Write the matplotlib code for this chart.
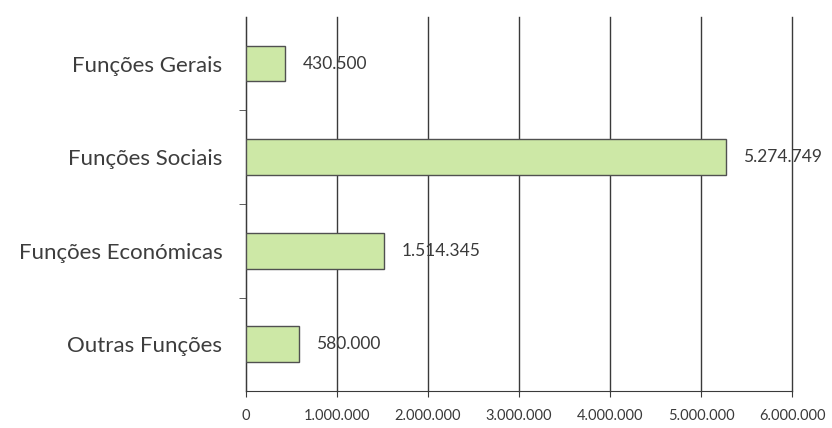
import matplotlib
matplotlib.use("Agg")
import matplotlib.pyplot as plt
from matplotlib.ticker import FuncFormatter

categories = ["Funções Gerais", "Funções Sociais", "Funções Económicas", "Outras Funções"]
values = [430500, 5274749, 1514345, 580000]
xticks = [0, 1000000, 2000000, 3000000, 4000000, 5000000, 6000000]

def fmt(v):
    return f"{int(v):,}".replace(",", ".")

plt.rcParams['font.family'] = ['Lato', 'DejaVu Sans']
fig = plt.figure(figsize=(8.32, 4.28), dpi=100)
ax = fig.add_axes([0.2957, 0.0864, 0.6563, 0.874])

ypos = list(range(len(categories)))
ax.barh(ypos, values, height=0.38, color='#cde8a6', edgecolor='#505050', linewidth=1.0, zorder=3)
for y, v in zip(ypos, values):
    ax.text(v + 190000, y, fmt(v), va='center', ha='left', fontsize=12.5, color='#3a3a3a', zorder=4)

ax.set_yticks(ypos)
ax.set_yticklabels(categories, fontsize=16, color='#3d3d3d')
ax.set_ylim(3.5, -0.5)
ax.set_yticks([0.5, 1.5, 2.5], minor=True)
ax.tick_params(axis='y', which='major', length=0, pad=17)
ax.tick_params(axis='y', which='minor', length=5, color='#444')

ax.set_xlim(0, 6000000)
ax.set_xticks(xticks)
ax.xaxis.set_major_formatter(FuncFormatter(lambda v, p: fmt(v)))
ax.tick_params(axis='x', labelsize=10.5, colors='#3a3a3a', length=4, pad=9)
ax.grid(axis='x', color='#3a3a3a', linewidth=1.0, zorder=0)
for gl in ax.get_xgridlines():
    gl.set_clip_on(False)
for s in ['top', 'right']:
    ax.spines[s].set_visible(False)
ax.spines['left'].set_color('#3a3a3a')
ax.spines['bottom'].set_color('#3a3a3a')

fig.savefig("out.png", dpi=100)
